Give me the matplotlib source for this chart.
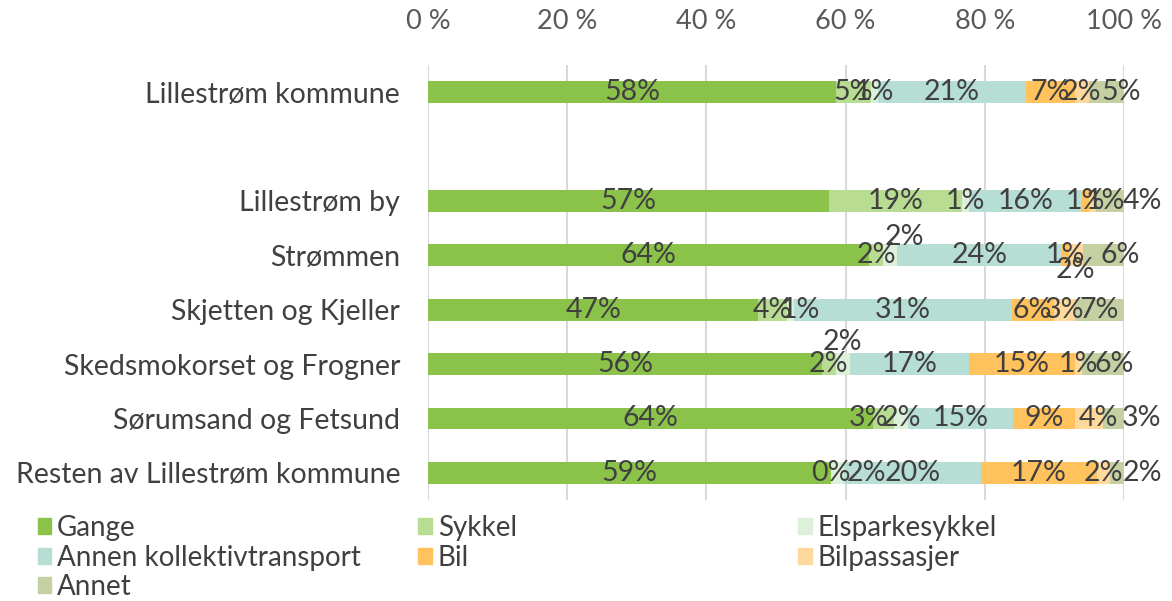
import numpy as np
import matplotlib.pyplot as plt
from matplotlib.patches import Patch

plt.rcParams['font.family'] = ['Lato', 'DejaVu Sans']

# data: share of trips by mode (%), as labelled in the chart
areas = ['Lillestrøm kommune', 'Lillestrøm by', 'Strømmen', 'Skjetten og Kjeller',
         'Skedsmokorset og Frogner', 'Sørumsand og Fetsund', 'Resten av Lillestrøm kommune']
modes = ['Gange', 'Sykkel', 'Elsparkesykkel', 'Annen kollektivtransport',
         'Bil', 'Bilpassasjer', 'Annet']
gange = [58, 57, 64, 47, 56, 64, 59]
sykkel = [5, 19, 2, 4, 2, 3, 0]
elsparkesykkel = [1, 1, 2, 1, 2, 2, 2]
kollektiv = [21, 16, 24, 31, 17, 15, 20]
bil = [7, 1, 1, 6, 15, 9, 17]
bilpassasjer = [2, 1, 2, 3, 1, 4, 2]
annet = [5, 4, 6, 7, 6, 3, 2]
xticks = [0, 20, 40, 60, 80, 100]

colors = ['#8bc34a', '#b9dc93', '#ddf0da', '#b6ded4', '#ffc25c', '#ffd99c', '#c4cfa2']
text_col = '#404040'

# slot 1 is left empty in the original
ypos = [0, 2, 3, 4, 5, 6, 7]

# nudges of individual labels (pixels, right / down) that were moved by hand
nudge = {
    (0, 6): (15, 0),
    (1, 5): (13, 0), (1, 6): (32, 0),
    (2, 2): (15, -18), (2, 5): (0, 15), (2, 6): (17, 0),
    (3, 2): (10, 0),
    (4, 2): (0, -22), (4, 6): (11, 0),
    (5, 1): (-15, 0), (5, 5): (9, 0), (5, 6): (28, 0),
    (6, 2): (29, 0), (6, 6): (25, 0),
}

vals = np.array([gange, sykkel, elsparkesykkel, kollektiv, bil, bilpassasjer, annet], dtype=float)
shares = vals / vals.sum(axis=0) * 100

fig = plt.figure(figsize=(11.72, 6.01), dpi=100)
ax = fig.add_axes([428 / 1172, 1 - 500 / 601, 696 / 1172, 435 / 601])

left = np.zeros(len(areas))
for i, m in enumerate(modes):
    ax.barh(ypos, shares[i], left=left, height=0.4, color=colors[i], zorder=2)
    for j in range(len(areas)):
        cx = left[j] + shares[i, j] / 2
        dx, dy = nudge.get((j, i), (0, 0))
        ax.annotate('%d%%' % vals[i, j], (cx, ypos[j]), xytext=(dx, -dy),
                    textcoords='offset pixels', ha='center', va='center',
                    fontsize=20.5, color=text_col, zorder=3)
    left += shares[i]

ax.set_xlim(0, 100)
ax.set_ylim(7.5, -0.5)
ax.set_yticks(range(8))
ax.set_yticklabels([areas[0], ''] + areas[1:], fontsize=20.5, color=text_col)
ax.set_xticks(xticks)
ax.set_xticklabels(['%d %%' % t for t in xticks], fontsize=19.5, color='#595959')
ax.xaxis.tick_top()
ax.tick_params(axis='both', length=0)
ax.tick_params(axis='x', pad=22)
ax.tick_params(axis='y', pad=20)
ax.grid(axis='x', color='#d9d9d9', linewidth=1.5, zorder=0)
for s in ax.spines.values():
    s.set_visible(False)

# legend laid out row-wise in three columns
handles = [Patch(color=c) for c in colors]
cols = [[0, 3, 6], [1, 4], [2, 5]]
xs = [0.032, 0.357, 0.681]
for k, idx in enumerate(cols):
    leg = fig.legend([handles[i] for i in idx], [modes[i] for i in idx],
                     loc='upper left', bbox_to_anchor=(xs[k], 1 - 515 / 601),
                     frameon=False, fontsize=20, handlelength=0.5, handleheight=0.5,
                     handletextpad=0.2, labelspacing=0.13, borderpad=0, borderaxespad=0)
    for t in leg.get_texts():
        t.set_color(text_col)

fig.savefig('out.png', dpi=100)
